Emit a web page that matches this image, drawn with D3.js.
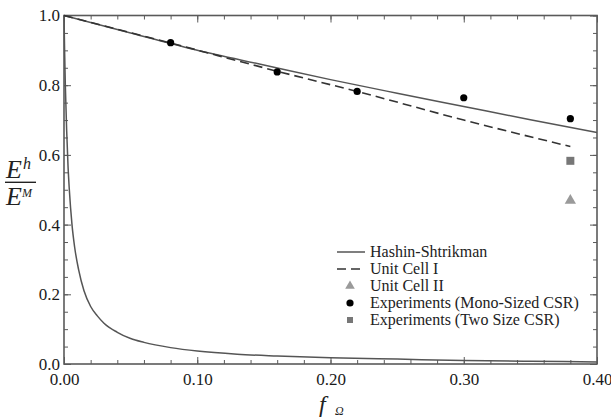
<!DOCTYPE html>
<html>
<head>
<meta charset="utf-8">
<script src="https://cdn.jsdelivr.net/npm/d3@7"></script>
<style>
  body { margin: 0; background: #fff; }
  svg { display: block; font-family: "Liberation Serif", "Times New Roman", serif; }
</style>
</head>
<body>
<svg id="chart" width="611" height="419"></svg>
<script>
// upper Hashin-Shtrikman bound
const hsUpperF = [0, 0.05, 0.10, 0.15, 0.20, 0.25, 0.30, 0.35, 0.40];
const hsUpperE = [1.0, 0.950, 0.900, 0.858, 0.816, 0.777, 0.739, 0.701, 0.664];

// lower Hashin-Shtrikman bound
const hsLowerF = [0, 0.0005, 0.001, 0.002, 0.003, 0.004, 0.006, 0.008, 0.011, 0.015, 0.02, 0.025, 0.03,
                  0.04, 0.05, 0.06, 0.08, 0.10, 0.13, 0.16, 0.20, 0.25, 0.30, 0.35, 0.40];
const hsLowerE = [1.0, 0.89, 0.80, 0.67, 0.57, 0.50, 0.40, 0.335, 0.27, 0.21, 0.165, 0.138, 0.117,
                  0.091, 0.073, 0.062, 0.047, 0.037, 0.028, 0.023, 0.018, 0.014, 0.010, 0.008, 0.006];

// unit cell I (dashed)
const cell1F = [0, 0.08, 0.16, 0.22, 0.30, 0.38];
const cell1E = [1.0, 0.921, 0.840, 0.782, 0.700, 0.624];

// unit cell II
const cell2F = [0.38];
const cell2E = [0.469];

// experiments
const monoF = [0.08, 0.16, 0.22, 0.30, 0.38];
const monoE = [0.922, 0.838, 0.782, 0.764, 0.704];
const twoF = [0.38];
const twoE = [0.583];

const xTicks = [0, 0.1, 0.2, 0.3, 0.4];
const yTicks = [0, 0.2, 0.4, 0.6, 0.8, 1.0];

const legendLabels = ["Hashin-Shtrikman", "Unit Cell I", "Unit Cell II",
                      "Experiments (Mono-Sized CSR)", "Experiments (Two Size CSR)"];

const svg = d3.select("#chart");
const frameColor = "#5a5a5a";
const serif = "'Liberation Serif', 'Times New Roman', serif";

const x = d3.scaleLinear().domain([0, 0.4]).range([64, 597]);
const y = d3.scaleLinear().domain([0, 1]).range([364, 15.5]);

// minor ticks
const xMinor = d3.range(0, 0.4001, 0.02);
const yMinor = d3.range(0, 1.0001, 0.05);

function styleAxis(g) {
    g.attr("font-family", serif).attr("font-size", 17);
    g.select(".domain").remove();
    g.selectAll("line").attr("stroke", frameColor).attr("stroke-width", 1);
    g.selectAll("text").attr("fill", "#1a1a1a");
}

// bottom
svg.append("g").attr("transform", `translate(0,${y(0)})`)
    .call(d3.axisBottom(x).tickValues(xMinor).tickSize(-4).tickFormat(""))
    .call(styleAxis);
svg.append("g").attr("transform", `translate(0,${y(0)})`)
    .call(d3.axisBottom(x).tickValues(xTicks).tickSize(-7).tickPadding(9).tickFormat(d3.format(".2f")))
    .call(styleAxis);
// top
svg.append("g").attr("transform", `translate(0,${y(1)})`)
    .call(d3.axisTop(x).tickValues(xMinor).tickSize(-4).tickFormat(""))
    .call(styleAxis);
svg.append("g").attr("transform", `translate(0,${y(1)})`)
    .call(d3.axisTop(x).tickValues(xTicks).tickSize(-7).tickFormat(""))
    .call(styleAxis);
// left
svg.append("g").attr("transform", `translate(${x(0)},0)`)
    .call(d3.axisLeft(y).tickValues(yMinor).tickSize(-4).tickFormat(""))
    .call(styleAxis);
svg.append("g").attr("transform", `translate(${x(0)},0)`)
    .call(d3.axisLeft(y).tickValues(yTicks).tickSize(-7).tickPadding(4).tickFormat(d3.format(".1f")))
    .call(styleAxis);
// right
svg.append("g").attr("transform", `translate(${x(0.4)},0)`)
    .call(d3.axisRight(y).tickValues(yMinor).tickSize(-4).tickFormat(""))
    .call(styleAxis);
svg.append("g").attr("transform", `translate(${x(0.4)},0)`)
    .call(d3.axisRight(y).tickValues(yTicks).tickSize(-7).tickFormat(""))
    .call(styleAxis);

// frame
svg.append("rect")
    .attr("x", x(0)).attr("y", y(1))
    .attr("width", x(0.4) - x(0)).attr("height", y(0) - y(1))
    .attr("fill", "none").attr("stroke", frameColor).attr("stroke-width", 1.6);

// curves
const line = d3.line().x(d => x(d[0])).y(d => y(d[1])).curve(d3.curveMonotoneX);

svg.append("path")
    .datum(hsUpperF.map((f, i) => [f, hsUpperE[i]]))
    .attr("d", line).attr("fill", "none").attr("stroke", "#555").attr("stroke-width", 1.5);

svg.append("path")
    .datum(hsLowerF.map((f, i) => [f, hsLowerE[i]]))
    .attr("d", line).attr("fill", "none").attr("stroke", "#555").attr("stroke-width", 1.5);

svg.append("path")
    .datum(cell1F.map((f, i) => [f, cell1E[i]]))
    .attr("d", line).attr("fill", "none").attr("stroke", "#333").attr("stroke-width", 1.6)
    .attr("stroke-dasharray", "9,5");

// markers
const tri = d3.symbol().type(d3.symbolTriangle).size(55);
const sq = d3.symbol().type(d3.symbolSquare).size(64);

svg.selectAll(".cell2").data(cell2F).join("path")
    .attr("transform", (d, i) => `translate(${x(d)},${y(cell2E[i])})`)
    .attr("d", tri).attr("fill", "#9a9a9a");

svg.selectAll(".two").data(twoF).join("path")
    .attr("transform", (d, i) => `translate(${x(d)},${y(twoE[i])})`)
    .attr("d", sq).attr("fill", "#777");

svg.selectAll(".mono").data(monoF).join("circle")
    .attr("cx", d => x(d)).attr("cy", (d, i) => y(monoE[i]))
    .attr("r", 3.6).attr("fill", "#000");

// legend
const legend = svg.append("g").attr("transform", "translate(337,252)");
const rowH = 17;
legendLabels.forEach((label, i) => {
    const g = legend.append("g").attr("transform", `translate(0,${i * rowH})`);
    if (i === 0) {
        g.append("line").attr("x1", 0).attr("x2", 28).attr("stroke", "#555").attr("stroke-width", 1.5);
    } else if (i === 1) {
        g.append("line").attr("x1", 0).attr("x2", 28).attr("stroke", "#333").attr("stroke-width", 1.6)
            .attr("stroke-dasharray", "9,5");
    } else if (i === 2) {
        g.append("path").attr("transform", "translate(13,0)").attr("d", d3.symbol().type(d3.symbolTriangle).size(40)).attr("fill", "#9a9a9a");
    } else if (i === 3) {
        g.append("circle").attr("cx", 13).attr("r", 3.6).attr("fill", "#000");
    } else {
        g.append("path").attr("transform", "translate(13,0)").attr("d", d3.symbol().type(d3.symbolSquare).size(36)).attr("fill", "#777");
    }
    g.append("text").attr("x", 33).attr("y", 5).attr("fill", "#222")
        .style("font-size", "16px").text(label);
});

// y label: E^h / E^M
const yl = svg.append("g").attr("fill", "#222").style("font-style", "italic");
yl.append("text").attr("x", 6).attr("y", 178).style("font-size", "26px").text("E");
yl.append("text").attr("x", 23).attr("y", 169).style("font-size", "16px").text("h");
yl.append("line").attr("x1", 5).attr("x2", 36).attr("y1", 182.3).attr("y2", 182.3)
    .attr("stroke", "#222").attr("stroke-width", 1.4);
yl.append("text").attr("x", 6).attr("y", 205).style("font-size", "26px").text("E");
yl.append("text").attr("x", 22).attr("y", 197).style("font-size", "12px").text("M");

// x label: f_Ω
const xl = svg.append("g").attr("fill", "#222").style("font-style", "italic");
xl.append("text").attr("x", 319).attr("y", 412).style("font-size", "24px").text("f");
xl.append("text").attr("x", 335).attr("y", 415).style("font-size", "12px").text("Ω");
</script>
</body>
</html>
